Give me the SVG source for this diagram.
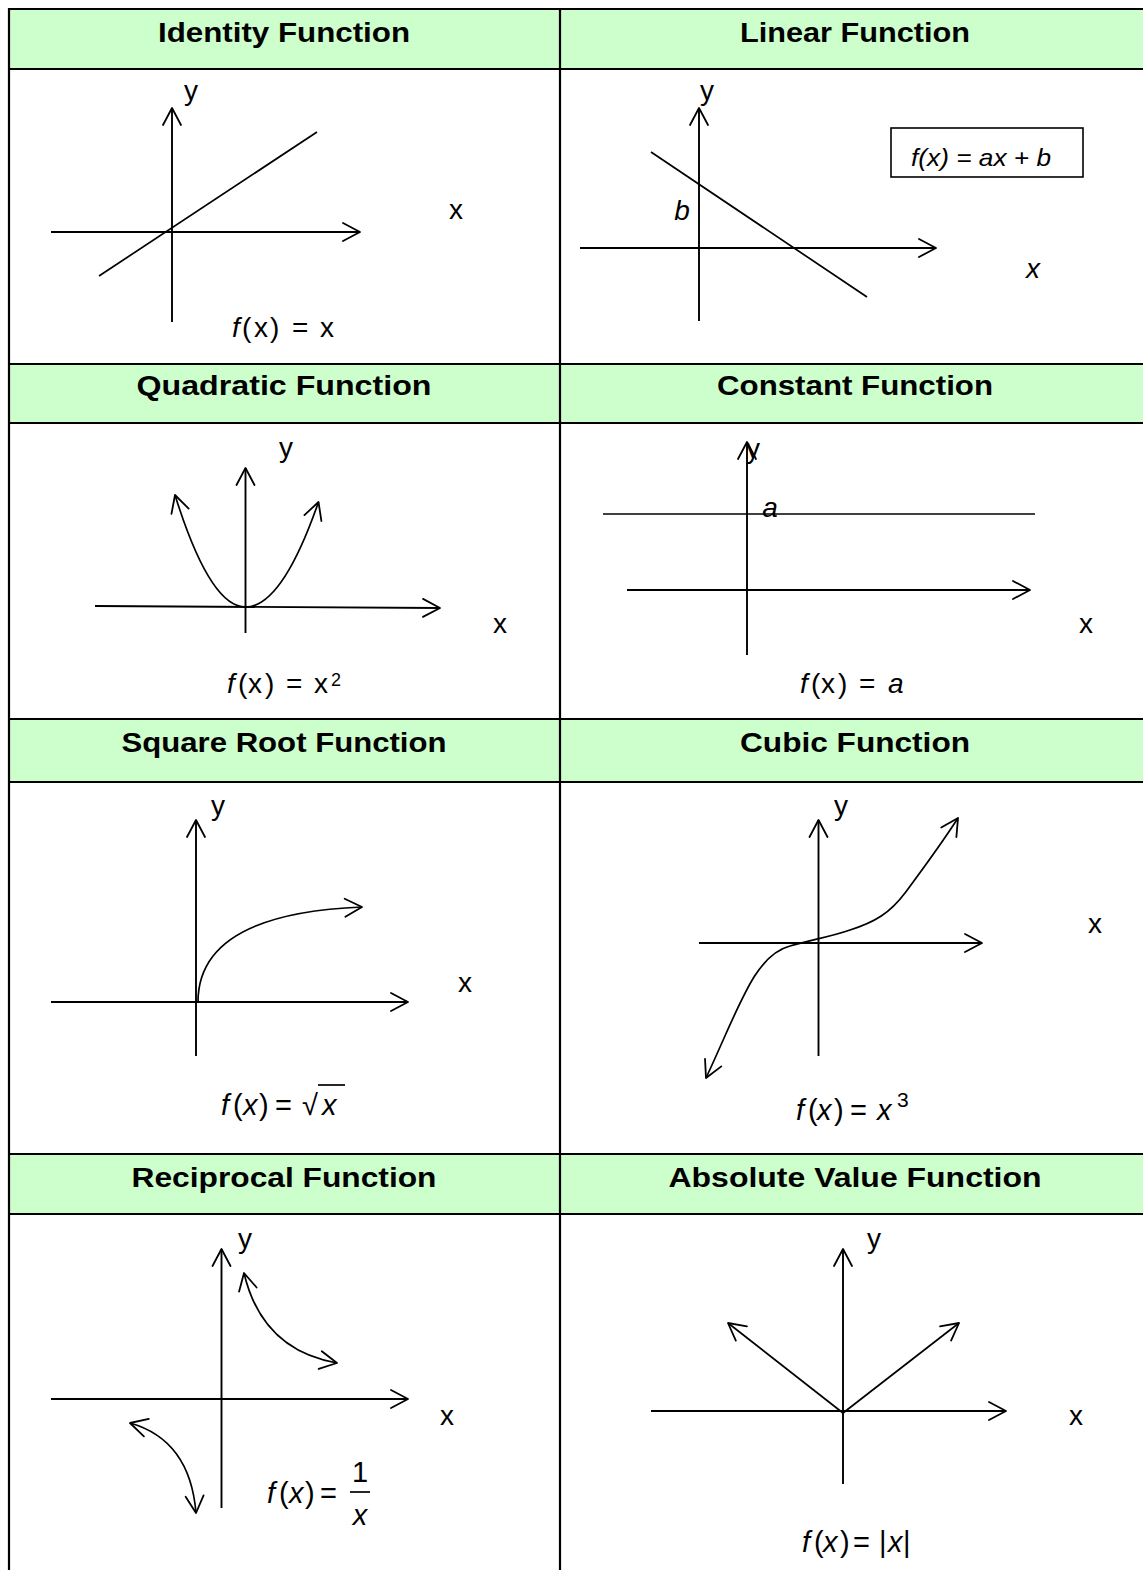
<svg xmlns="http://www.w3.org/2000/svg" width="1143" height="1570" viewBox="0 0 1143 1570">
<defs>
<style>
.hdr{fill:#CCFFCC;stroke:none}
.grid{stroke:#000;stroke-width:2.2;fill:none}
.ax{stroke:#000;stroke-width:1.9;fill:none;marker-end:url(#ah)}
.ln{stroke:#000;stroke-width:1.7;fill:none}
.ttl{font-family:"Liberation Sans",Arial,sans-serif;font-weight:bold;font-size:27px;text-anchor:middle;fill:#000}
.lbl{font-family:"Liberation Sans",Arial,sans-serif;font-size:28px;text-anchor:middle;fill:#000}
.fm{font-family:"Liberation Sans",Arial,sans-serif;font-size:28px;fill:#000}
.mf{font-family:"Liberation Sans",Arial,sans-serif;font-size:29px;fill:#000}
.it{font-style:italic}
</style>
<marker id="ah" markerUnits="userSpaceOnUse" markerWidth="40" markerHeight="40" refX="0" refY="0" orient="auto-start-reverse" overflow="visible">
<path d="M-17,-9 L0,0 L-17,9" fill="none" stroke="#000" stroke-width="1.8" stroke-linejoin="round" stroke-linecap="round"/>
</marker>
</defs>
<rect width="1143" height="1570" fill="#fff"/>

<g id="table">
<rect class="hdr" x="9" y="9" width="1134" height="60"/>
<rect class="hdr" x="9" y="364" width="1134" height="59"/>
<rect class="hdr" x="9" y="719" width="1134" height="63"/>
<rect class="hdr" x="9" y="1154" width="1134" height="60"/>
<path class="grid" d="M9,9H1143 M9,69H1143 M9,364H1143 M9,423H1143 M9,719H1143 M9,782H1143 M9,1154H1143 M9,1214H1143 M9,8V1570 M560,8V1570"/>
</g>

<g id="identity">
<text class="ttl" x="284" y="42" textLength="252" lengthAdjust="spacingAndGlyphs">Identity Function</text>
<path class="ax" d="M172,322V108"/>
<path class="ax" d="M51,232H360"/>
<path class="ln" d="M99,276L317,132"/>
<text class="lbl" x="191" y="100">y</text>
<text class="lbl" x="456" y="219">x</text>
<text class="fm" y="337"><tspan x="232" class="it">f</tspan><tspan x="242">(</tspan><tspan x="254">x</tspan><tspan x="270">)</tspan><tspan x="292">=</tspan><tspan x="320">x</tspan></text>
</g>

<g id="linear">
<text class="ttl" x="855" y="42" textLength="230" lengthAdjust="spacingAndGlyphs">Linear Function</text>
<path class="ax" d="M699,321V108"/>
<path class="ax" d="M580,248H936"/>
<path class="ln" d="M651,152L867,297"/>
<text class="lbl" x="707" y="100">y</text>
<text class="lbl it" x="682" y="220">b</text>
<text class="lbl it" x="1033" y="278">x</text>
<rect x="891" y="128" width="192" height="49" fill="none" stroke="#000" stroke-width="1.6"/>
<text x="911" y="166" font-family="'Liberation Sans',Arial,sans-serif" font-size="24" font-style="italic" textLength="140" lengthAdjust="spacingAndGlyphs">f(x) = ax + b</text>
</g>

<g id="quadratic">
<text class="ttl" x="284" y="395" textLength="295" lengthAdjust="spacingAndGlyphs">Quadratic Function</text>
<path class="ax" d="M245.5,633V468"/>
<path class="ax" d="M95,606L440,608"/>
<path class="ln" d="M245.5,607Q210,607 175,495" marker-end="url(#ah)"/>
<path class="ln" d="M245.5,607Q282,607 318.5,502" marker-end="url(#ah)"/>
<text class="lbl" x="286" y="457">y</text>
<text class="lbl" x="500" y="633">x</text>
<text class="fm" y="693"><tspan x="227" class="it">f</tspan><tspan x="238">(</tspan><tspan x="248">x</tspan><tspan x="265">)</tspan><tspan x="286">=</tspan><tspan x="314">x</tspan><tspan x="331" y="686" font-size="18">2</tspan></text>
</g>

<g id="constant">
<text class="ttl" x="855" y="395" textLength="276" lengthAdjust="spacingAndGlyphs">Constant Function</text>
<path class="ax" d="M747,655V442"/>
<path class="ln" d="M603,514H1035"/>
<path class="ax" d="M627,590H1030"/>
<text class="lbl" x="753" y="458">y</text>
<text class="lbl it" x="770" y="517">a</text>
<text class="lbl" x="1086" y="633">x</text>
<text class="fm" y="693"><tspan x="800" class="it">f</tspan><tspan x="811">(</tspan><tspan x="821">x</tspan><tspan x="838">)</tspan><tspan x="859">=</tspan><tspan x="888" class="it">a</tspan></text>
</g>

<g id="squareroot">
<text class="ttl" x="284" y="752" textLength="325" lengthAdjust="spacingAndGlyphs">Square Root Function</text>
<path class="ax" d="M196,1056V820"/>
<path class="ax" d="M51,1002H408"/>
<path class="ln" d="M198,1002C198,950 240,912 362,907" marker-end="url(#ah)"/>
<text class="lbl" x="218" y="815">y</text>
<text class="lbl" x="465" y="992">x</text>
<text class="mf" y="1115"><tspan x="221" class="it">f</tspan><tspan x="233">(</tspan><tspan x="243" class="it">x</tspan><tspan x="259">)</tspan><tspan x="275">=</tspan><tspan x="302">√</tspan><tspan x="322" class="it">x</tspan></text>
<path class="ln" d="M318,1085H345" stroke-width="1.4"/>
</g>

<g id="cubic">
<text class="ttl" x="855" y="752" textLength="230" lengthAdjust="spacingAndGlyphs">Cubic Function</text>
<path class="ax" d="M818.5,1056V820"/>
<path class="ax" d="M699,943H982"/>
<path class="ln" d="M706,1078C740,1005 755,955 790,946C810,940 830,937 850,930C875,922 890,913 905,893C925,866 940,846 958,818" marker-start="url(#ah)" marker-end="url(#ah)"/>
<text class="lbl" x="841" y="815">y</text>
<text class="lbl" x="1095" y="933">x</text>
<text class="mf" y="1120"><tspan x="796" class="it">f</tspan><tspan x="808">(</tspan><tspan x="817" class="it">x</tspan><tspan x="834">)</tspan><tspan x="850">=</tspan><tspan x="877" class="it">x</tspan><tspan x="897" y="1107" font-size="21">3</tspan></text>
</g>

<g id="reciprocal">
<text class="ttl" x="284" y="1187" textLength="305" lengthAdjust="spacingAndGlyphs">Reciprocal Function</text>
<path class="ax" d="M221.5,1508V1249"/>
<path class="ax" d="M51,1399H408"/>
<path class="ln" d="M244,1273Q262,1350 337,1363" marker-start="url(#ah)" marker-end="url(#ah)"/>
<path class="ln" d="M130,1423Q190,1440 196,1513" marker-start="url(#ah)" marker-end="url(#ah)"/>
<text class="lbl" x="245" y="1248">y</text>
<text class="lbl" x="447" y="1425">x</text>
<text class="mf" y="1503"><tspan x="267" class="it">f</tspan><tspan x="279">(</tspan><tspan x="289" class="it">x</tspan><tspan x="305">)</tspan><tspan x="320">=</tspan></text>
<text class="mf" x="360" y="1482" text-anchor="middle">1</text>
<path class="ln" d="M350,1492H370" stroke-width="1.4"/>
<text class="mf it" x="360" y="1525" text-anchor="middle">x</text>
</g>

<g id="absolute">
<text class="ttl" x="855" y="1187" textLength="373" lengthAdjust="spacingAndGlyphs">Absolute Value Function</text>
<path class="ax" d="M843,1484V1249"/>
<path class="ax" d="M651,1411H1006"/>
<path class="ln" d="M843,1413L728,1323" marker-end="url(#ah)"/>
<path class="ln" d="M843,1413L959,1323" marker-end="url(#ah)"/>
<text class="lbl" x="874" y="1248">y</text>
<text class="lbl" x="1076" y="1425">x</text>
<text class="mf" y="1552"><tspan x="802" class="it">f</tspan><tspan x="814">(</tspan><tspan x="823" class="it">x</tspan><tspan x="840">)</tspan><tspan x="853">=</tspan><tspan x="879">|</tspan><tspan x="888" class="it">x</tspan><tspan x="903">|</tspan></text>
</g>
</svg>
